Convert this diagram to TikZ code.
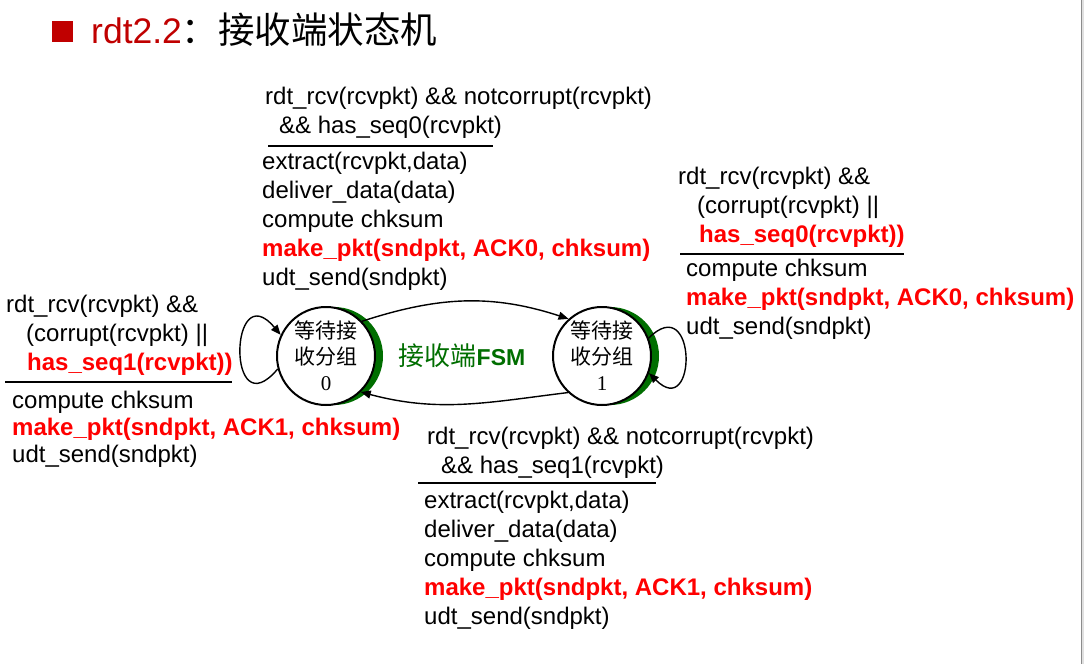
\documentclass[tikz,border=0pt]{standalone}
\usepackage{fontspec}
\setmainfont{Liberation Sans}
\newfontfamily\cjk{Noto Sans CJK SC}
\newfontfamily\serifnum{Liberation Serif}
\usetikzlibrary{arrows.meta, shadows}
\definecolor{titlered}{RGB}{192,0,0}
\definecolor{pktred}{RGB}{255,0,0}
\definecolor{fsmgreen}{RGB}{0,110,0}

\begin{document}
\begin{tikzpicture}[
    x=1pt, y=-1pt,
    state_node/.style={circle, draw, line width=2pt, fill=white, minimum size=98pt, inner sep=0pt,
        align=center, font=\cjk\fontsize{21}{26}\selectfont,
        drop shadow={shadow xshift=8pt, shadow yshift=0pt, fill=fsmgreen, opacity=1}},
    label_text/.style={anchor=base west, align=left, inner sep=0pt, font=\fontsize{24}{29}\selectfont},
    rule_line/.style={line width=2.5pt},
    trans_arrow/.style={-{Triangle[length=10pt, width=8pt]}, line width=1.4pt}
]
    % page
    \fill[white] (0,0) rectangle (1084,664);
    \fill[black!45] (1080.5,0) rectangle (1082,664);
    \fill[black!12] (1082,0) rectangle (1084,664);

    % title
    \node[fill=titlered, minimum size=21pt, inner sep=0pt] (bullet) at (62,31) {};
    \node[anchor=base west, inner sep=0pt, font=\fontsize{35.5}{40}\selectfont] (title) at (91,43)
        {\textcolor{titlered}{rdt2.2}{\cjk\fontsize{36.5}{40}\selectfont ：接收端状态机}};

    % states
    \node[state_node] (wait0) at (326,356) {等待接\\收分组\\{\serifnum 0}};
    \node[state_node] (wait1) at (602,356) {等待接\\收分组\\{\serifnum 1}};
    \node[text=fsmgreen] (fsm) at (462,356) {{\cjk\fontsize{26}{30}\selectfont 接收端}{\fontsize{23}{26}\selectfont\bfseries FSM}};

    % wait0 -> wait1 (base = last line)
    \node[label_text] (top_guard) at (265,133)
        {rdt\_rcv(rcvpkt) \&\& notcorrupt(rcvpkt)\\\hspace*{14pt}\&\& has\_seq0(rcvpkt)};
    \draw[rule_line] (268,146) -- (493,146);
    \node[label_text] (top_act) at (262,285)
        {extract(rcvpkt,data)\\deliver\_data(data)\\compute chksum\\
         \textcolor{pktred}{\bfseries make\_pkt(sndpkt, ACK0, chksum)}\\udt\_send(sndpkt)};

    % wait1 self loop
    \node[label_text] (right_guard) at (678,242)
        {rdt\_rcv(rcvpkt) \&\&\\\hspace*{19pt}(corrupt(rcvpkt) ||\\
         \hspace*{21pt}\textcolor{pktred}{\bfseries has\_seq0(rcvpkt))}};
    \draw[rule_line] (680,254) -- (904,254);
    \node[label_text] (right_act) at (686,334)
        {compute chksum\\\textcolor{pktred}{\bfseries make\_pkt(sndpkt, ACK0, chksum)}\\udt\_send(sndpkt)};

    % wait0 self loop
    \node[label_text] (left_guard) at (6,370)
        {rdt\_rcv(rcvpkt) \&\&\\\hspace*{20pt}(corrupt(rcvpkt) ||\\
         \hspace*{21pt}\textcolor{pktred}{\bfseries has\_seq1(rcvpkt))}};
    \draw[rule_line] (5,382) -- (232,382);
    \node[label_text, font=\fontsize{24}{27}\selectfont] (left_act) at (12,462)
        {compute chksum\\\textcolor{pktred}{\bfseries make\_pkt(sndpkt, ACK1, chksum)}\\udt\_send(sndpkt)};

    % wait1 -> wait0
    \node[label_text] (bottom_guard) at (427,473)
        {rdt\_rcv(rcvpkt) \&\& notcorrupt(rcvpkt)\\\hspace*{14pt}\&\& has\_seq1(rcvpkt)};
    \draw[rule_line] (418,483) -- (656,483);
    \node[label_text] (bottom_act) at (424,624)
        {extract(rcvpkt,data)\\deliver\_data(data)\\compute chksum\\
         \textcolor{pktred}{\bfseries make\_pkt(sndpkt, ACK1, chksum)}\\udt\_send(sndpkt)};

    % transitions
    \draw[trans_arrow] (wait0.44) to[out=18, in=162] (wait1.132);
    \draw[trans_arrow] (wait1.227) to[out=187, in=-15] (wait0.-46);
    \draw[trans_arrow] (wait0.195) to[out=230, in=130, looseness=6] (wait0.155);
    \draw[trans_arrow] (wait1.21) to[out=45, in=-45, looseness=5] (wait1.-20);
\end{tikzpicture}
\end{document}
